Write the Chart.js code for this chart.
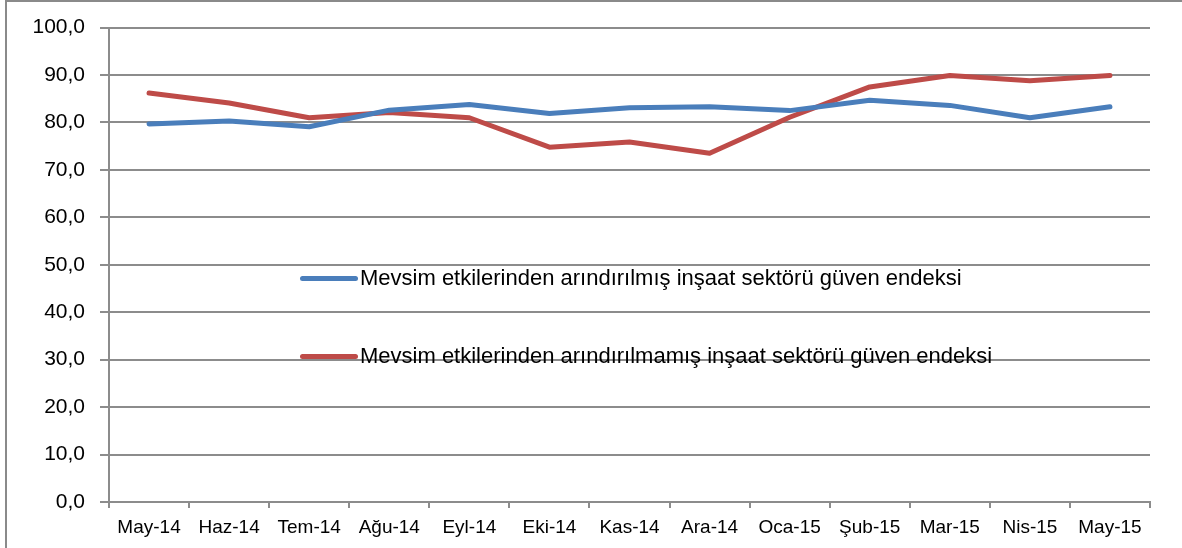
<!DOCTYPE html>
<html lang="tr">
<head>
<meta charset="utf-8">
<script src="https://cdn.jsdelivr.net/npm/chart.js@4/dist/chart.umd.min.js"></script>
<style>
    html, body { margin: 0; padding: 0; background: #fff; }
    #wrap { position: relative; width: 1182px; height: 548px; overflow: hidden; }
    #frame {
        position: absolute; left: 5px; top: 0; width: 1300px; height: 700px;
        border-left: 2px solid #8a8a8a; border-top: 2px solid #8a8a8a;
        pointer-events: none;
    }
    #chart { position: absolute; left: 0; top: 0; }
    .leg-item { position: absolute; left: 300px; display: flex; align-items: center;
        font-family: 'Liberation Sans', Arial, sans-serif; font-size: 22px; color: #000;
        letter-spacing: 0; white-space: nowrap; }
    .leg-item .swatch { width: 58px; height: 5px; border-radius: 3px; margin-right: 2px; }
</style>
</head>
<body>
<div id="wrap">
    <canvas id="chart" width="1182" height="548"></canvas>
    <div id="frame"></div>
    <div id="legend"></div>
</div>
<script>
// Aylar
const months = ['May-14', 'Haz-14', 'Tem-14', 'Ağu-14', 'Eyl-14', 'Eki-14', 'Kas-14',
    'Ara-14', 'Oca-15', 'Şub-15', 'Mar-15', 'Nis-15', 'May-15'];

// Mevsim etkilerinden arındırılmış
const seasonallyAdjusted = [79.7, 80.3, 79.1, 82.6, 83.8, 81.9, 83.1, 83.3, 82.5, 84.7, 83.6, 81.0, 83.3];

// Mevsim etkilerinden arındırılmamış
const notAdjusted = [86.2, 84.1, 81.0, 82.1, 81.0, 74.8, 75.9, 73.5, 81.1, 87.5, 89.9, 88.8, 89.9];

const yTicks = { min: 0, max: 100, step: 10 };

const seriesLabels = [
    'Mevsim etkilerinden arındırılmış inşaat sektörü güven endeksi',
    'Mevsim etkilerinden arındırılmamış inşaat sektörü güven endeksi',
];
const seriesColors = ['#4a7ebb', '#be4b48'];

const FONT = "'Liberation Sans', Arial, sans-serif";
const GRID = '#8c8c8c';

const ctx = document.getElementById('chart').getContext('2d');

const chart = new Chart(ctx, {
    type: 'line',
    data: {
        labels: months,
        datasets: [seasonallyAdjusted, notAdjusted].map((d, i) => ({
            label: seriesLabels[i],
            data: d,
            borderColor: seriesColors[i],
            backgroundColor: seriesColors[i],
            borderWidth: 5,
            borderCapStyle: 'round',
            borderJoinStyle: 'round',
            pointRadius: 0,
            pointHoverRadius: 0,
            tension: 0,
        })),
    },
    options: {
        responsive: false,
        animation: false,
        layout: { padding: { left: 0, right: 32, top: 25, bottom: 0 } },
        plugins: {
            legend: { display: false },
            tooltip: { enabled: false },
        },
        scales: {
            x: {
                offset: true,
                afterFit: s => { s.height = 46; },
                grid: {
                    offset: true,
                    drawOnChartArea: false,
                    drawTicks: true,
                    tickLength: 6,
                    color: GRID,
                    lineWidth: 2,
                },
                border: { color: GRID, width: 2 },
                ticks: {
                    font: { family: FONT, size: 19 },
                    color: '#000',
                    padding: 8,
                    maxRotation: 0,
                    autoSkip: false,
                },
            },
            y: {
                min: yTicks.min,
                max: yTicks.max,
                afterFit: s => { s.width = 109; },
                grid: {
                    color: GRID,
                    lineWidth: 2,
                    tickLength: 9,
                },
                border: { color: GRID, width: 2 },
                ticks: {
                    stepSize: yTicks.step,
                    font: { family: FONT, size: 21 },
                    color: '#000',
                    padding: 15,
                    callback: v => v.toFixed(1).replace('.', ','),
                },
            },
        },
    },
});

// Lejant (grafik alanının içinde)
const legendTops = [278, 356];
document.getElementById('legend').innerHTML = seriesLabels.map((l, i) => `
    <div class="leg-item" style="top:${legendTops[i] - 13}px;height:26px">
        <span class="swatch" style="background:${seriesColors[i]}"></span>${l}
    </div>`).join('');
</script>
</body>
</html>
